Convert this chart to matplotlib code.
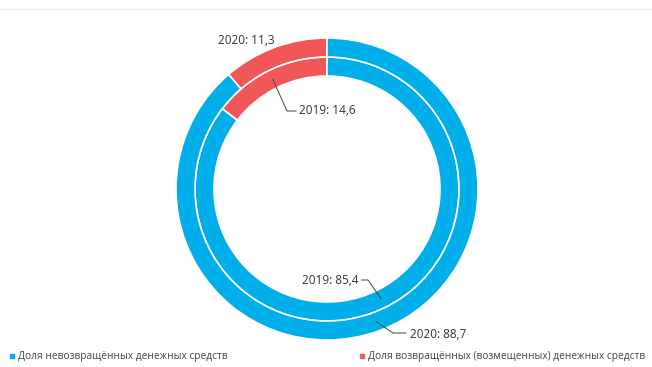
import numpy as np
import matplotlib.pyplot as plt

plt.rcParams['font.family'] = ['Open Sans', 'DejaVu Sans']

# shares of funds, %
years = ['2019', '2020']
returned = [14.6, 11.3]
not_returned = [85.4, 88.7]
legend_labels = ['Доля невозвращённых денежных средств',
                 'Доля возвращённых (возмещенных) денежных средств']

blue = '#00AEEA'
red = '#F25757'

W, H = 652, 367
fig = plt.figure(figsize=(W / 100, H / 100), dpi=100)
ax = fig.add_axes([0, 0, 1, 1])
ax.set_xlim(0, W)
ax.set_ylim(0, H)
ax.set_aspect('equal')
ax.axis('off')

cx, cy = 327, H - 189
r_out, ring = 151, 19

# faint rule along the top
ax.plot([0, W], [H - 9, H - 9], color='#f2f2f2', lw=1)

# outer ring = 2020, inner ring = 2019
rings = {'2020': r_out, '2019': r_out - ring}
for i, yr in enumerate(years):
    ax.pie([returned[i], not_returned[i]], colors=[red, blue],
           startangle=90, counterclock=True, radius=rings[yr], center=(cx, cy),
           wedgeprops=dict(width=ring, edgecolor='white', linewidth=1.2))
ax.set_xlim(0, W)
ax.set_ylim(0, H)


def ring_point(yr, share_start, share):
    ang = np.deg2rad(90 + 3.6 * (share_start + share / 2))
    r = rings[yr] - ring / 2
    return cx + r * np.cos(ang), cy + r * np.sin(ang)


def fmt(v):
    return f'{v:.1f}'.replace('.', ',')


lc = '#444444'
fs = 8.5
# 2020 returned share label
ax.text(218, H - 40, f'2020: {fmt(returned[1])}', fontsize=fs, color='#333333',
        ha='left', va='center')

# 2019 returned share
px, py = ring_point('2019', 0, returned[0])
ax.plot([px, 287, 296], [py, H - 111, H - 111], color=lc, lw=0.7)
ax.text(299, H - 111, f'2019: {fmt(returned[0])}', fontsize=fs, color='#333333',
        ha='left', va='center')

# 2019 not returned share
px, py = ring_point('2019', returned[0], not_returned[0])
ax.plot([px, 368, 362], [py, H - 280, H - 280], color=lc, lw=0.7)
ax.text(359, H - 280, f'2019: {fmt(not_returned[0])}', fontsize=fs, color='#333333',
        ha='right', va='center')

# 2020 not returned share
px, py = ring_point('2020', returned[1], not_returned[1])
ax.plot([px, 393, 406], [py, H - 333, H - 333], color=lc, lw=0.7)
ax.text(410, H - 335, f'2020: {fmt(not_returned[1])}', fontsize=fs, color='#333333',
        ha='left', va='center')

# legend
ax.plot(12, H - 356, marker='s', color=blue, markersize=3.5)
ax.text(18, H - 356, legend_labels[0], fontsize=7.3, color='#444444',
        ha='left', va='center')
ax.plot(362, H - 356, marker='s', color=red, markersize=3.5)
ax.text(368, H - 356, legend_labels[1], fontsize=7.3, color='#444444',
        ha='left', va='center')

fig.savefig('out.png', dpi=100, facecolor='white')
